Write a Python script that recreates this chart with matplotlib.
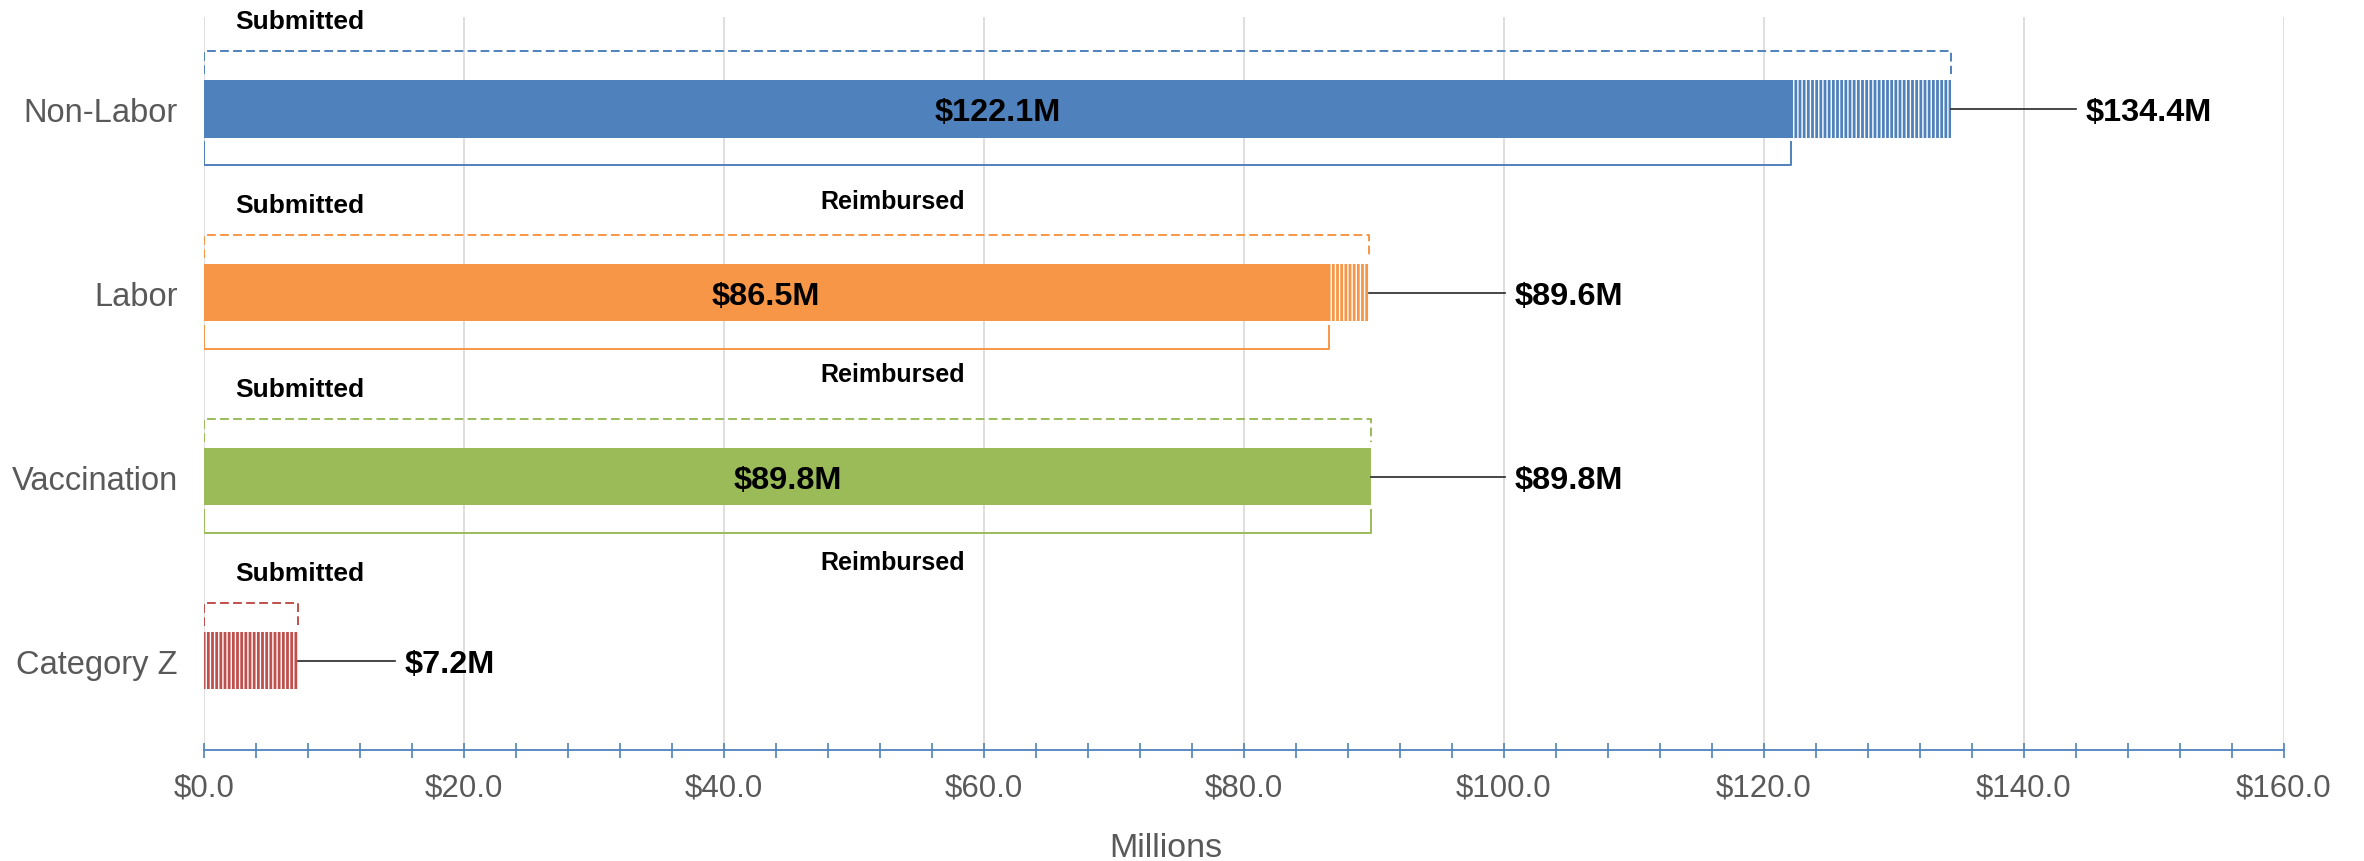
import matplotlib
matplotlib.use("Agg")
import matplotlib.pyplot as plt
import matplotlib.transforms as mtrans
import numpy as np

plt.rcParams['font.family'] = ['Liberation Sans', 'DejaVu Sans']
plt.rcParams['hatch.linewidth'] = 1.0

# ---- data ----
categories = ["Non-Labor", "Labor", "Vaccination", "Category Z"]
reimbursed = [122.1, 86.5, 89.8, 0.0]
submitted = [134.4, 89.6, 89.8, 7.2]
xticks = [0, 20, 40, 60, 80, 100, 120, 140, 160]
xtick_labels = ["$0.0", "$20.0", "$40.0", "$60.0", "$80.0", "$100.0", "$120.0", "$140.0", "$160.0"]

# ---- layout / style ----
colors = ["#4F81BD", "#F79646", "#9BBB59", "#C0504D"]
ypos = [3, 2, 1, 0]
label_x = [144.7, 100.8, 100.8, 15.4]
reimb_label_off = [0.50, 0.44, 0.46, 0.46]
bh = 0.31

W, H = 2364, 862
fig = plt.figure(figsize=(W / 100, H / 100), dpi=100)
ax = fig.add_axes([204 / W, 1 - 751 / H, (2284 - 204) / W, (751 - 18) / H])
ax.set_xlim(0, 160)
ax.set_ylim(-0.484, 3.5)

for i, cat in enumerate(categories):
    y = ypos[i]
    c = colors[i]
    r = reimbursed[i]
    s = submitted[i]
    # solid reimbursed bar
    if r > 0:
        ax.barh(y, r, left=0, height=bh, color=c, linewidth=0, zorder=3)
    # hatched pending part
    if s - r > 0:
        ax.barh(y, s - r, left=r, height=bh, color=c, edgecolor="white",
                linewidth=0, hatch="||||", zorder=3)
    # dashed "submitted" bracket above
    yt = y + 0.315
    ax.plot([0, 0, s, s], [y + 0.19, yt, yt, y + 0.19], color=c, lw=1.4,
            linestyle=(0, (4.5, 2.2)), solid_joinstyle="round",
            dash_joinstyle="round", zorder=3)
    # solid "reimbursed" bracket below
    if r > 0:
        yb = y - 0.304
        ax.plot([0, 0, r, r], [y - 0.18, yb, yb, y - 0.18], color=c, lw=1.4,
                solid_joinstyle="round", zorder=3)
        ax.text(r / 2, y, f"${r:.1f}M", ha="center", va="center_baseline",
                fontsize=23.4, fontweight="bold", color="black", zorder=4)
        ax.text(53, y - reimb_label_off[i], "Reimbursed", ha="center", va="center",
                fontsize=18, fontweight="bold", color="black")
    ax.text(7.4, y + 0.48, "Submitted", ha="center", va="center",
            fontsize=19, fontweight="bold", color="black")
    # leader line and total label
    ax.plot([s, label_x[i] - 0.7], [y, y], color="#262626", lw=1.2, zorder=3)
    ax.text(label_x[i], y, f"${s:.1f}M", ha="left", va="center_baseline",
            fontsize=23.4, fontweight="bold", color="black")

# axes styling
ax.set_xticks(xticks, xtick_labels)
ax.set_xticks(np.arange(0, 161, 4), minor=True)
ax.set_yticks(ypos, categories)
ax.xaxis.grid(True, which="major", color="#D9D9D9", lw=1.2)
ax.set_axisbelow(True)
for sp in ["left", "top", "right"]:
    ax.spines[sp].set_visible(False)
ax.spines["bottom"].set_color("#4F81BD")
ax.spines["bottom"].set_linewidth(1.3)
ax.tick_params(axis="x", which="both", direction="inout", length=10.8, width=1.2,
               color="#4F81BD", labelcolor="#595959", labelsize=22.5, pad=11)
ax.tick_params(axis="y", length=0, pad=19, labelsize=23.5, labelcolor="#595959")

tr = mtrans.blended_transform_factory(ax.transData, ax.transAxes)
ax.text(74, -0.1325, "Millions", transform=tr, ha="center", va="center",
        fontsize=24.5, color="#595959")

fig.savefig("out.png", dpi=100)
